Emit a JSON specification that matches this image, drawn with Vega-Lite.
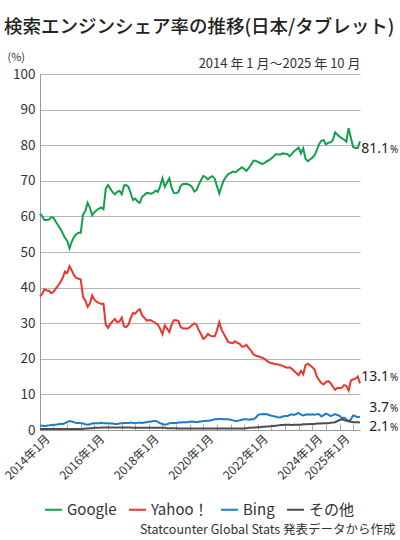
{
  "$schema": "https://vega.github.io/schema/vega-lite/v6.json",
  "width": 320,
  "height": 356,
  "autosize": {"type": "none"},
  "padding": {"left": 40, "top": 74, "right": 40, "bottom": 110},
  "background": "#ffffff",
  "title": {
    "text": "検索エンジンシェア率の推移(日本/タブレット)",
    "anchor": "start", "frame": "group", "dx": -36, "offset": 15,
    "font": "Noto Sans CJK JP", "fontSize": 18.5, "fontWeight": 500, "color": "#222222"
  },
  "config": {
    "view": {"stroke": null},
    "font": "Noto Sans CJK JP",
    "axisY": {
      "tickCount": 10, "grid": true, "gridColor": "#b5b5b5", "ticks": false, "labelOverlap": false,
      "domainColor": "#999999", "labelFontSize": 13.5, "labelColor": "#333333", "labelPadding": 5,
      "titleAngle": 0, "titleX": -33, "titleY": -14, "titleAlign": "left", "titleBaseline": "alphabetic",
      "titleFontSize": 11, "titleFontWeight": "normal", "titleColor": "#333333"
    }
  },
  "data": {
    "format": {"parse": {"month": "utc:'%Y-%m'"}},
    "values": [
      {"month": "2014-01", "Google": 60.8, "Yahoo！": 37.6, "Bing": 1.3, "その他": 0.3},
      {"month": "2014-02", "Google": 60.0, "Yahoo！": 38.2, "Bing": 1.2, "その他": 0.3},
      {"month": "2014-03", "Google": 59.0, "Yahoo！": 39.5, "Bing": 1.1, "その他": 0.3},
      {"month": "2014-04", "Google": 59.0, "Yahoo！": 39.2, "Bing": 1.2, "その他": 0.3},
      {"month": "2014-05", "Google": 59.1, "Yahoo！": 39.1, "Bing": 1.3, "その他": 0.3},
      {"month": "2014-06", "Google": 59.8, "Yahoo！": 38.5, "Bing": 1.4, "その他": 0.3},
      {"month": "2014-07", "Google": 59.6, "Yahoo！": 38.8, "Bing": 1.5, "その他": 0.3},
      {"month": "2014-08", "Google": 58.5, "Yahoo！": 39.7, "Bing": 1.5, "その他": 0.3},
      {"month": "2014-09", "Google": 57.5, "Yahoo！": 40.6, "Bing": 1.6, "その他": 0.3},
      {"month": "2014-10", "Google": 56.5, "Yahoo！": 41.5, "Bing": 1.7, "その他": 0.3},
      {"month": "2014-11", "Google": 55.3, "Yahoo！": 42.7, "Bing": 1.7, "その他": 0.3},
      {"month": "2014-12", "Google": 54.0, "Yahoo！": 44.5, "Bing": 1.9, "その他": 0.3},
      {"month": "2015-01", "Google": 53.2, "Yahoo！": 44.1, "Bing": 2.2, "その他": 0.3},
      {"month": "2015-02", "Google": 51.0, "Yahoo！": 46.0, "Bing": 2.5, "その他": 0.3},
      {"month": "2015-03", "Google": 52.8, "Yahoo！": 44.9, "Bing": 2.4, "その他": 0.3},
      {"month": "2015-04", "Google": 54.2, "Yahoo！": 43.5, "Bing": 2.2, "その他": 0.3},
      {"month": "2015-05", "Google": 55.0, "Yahoo！": 42.7, "Bing": 2.0, "その他": 0.3},
      {"month": "2015-06", "Google": 55.4, "Yahoo！": 42.5, "Bing": 2.0, "その他": 0.3},
      {"month": "2015-07", "Google": 55.4, "Yahoo！": 42.3, "Bing": 1.9, "その他": 0.3},
      {"month": "2015-08", "Google": 60.5, "Yahoo！": 37.4, "Bing": 1.8, "その他": 0.3},
      {"month": "2015-09", "Google": 61.5, "Yahoo！": 36.4, "Bing": 1.6, "その他": 0.4},
      {"month": "2015-10", "Google": 63.8, "Yahoo！": 34.6, "Bing": 1.5, "その他": 0.4},
      {"month": "2015-11", "Google": 62.5, "Yahoo！": 35.5, "Bing": 1.6, "その他": 0.5},
      {"month": "2015-12", "Google": 60.3, "Yahoo！": 37.8, "Bing": 1.8, "その他": 0.5},
      {"month": "2016-01", "Google": 61.2, "Yahoo！": 36.6, "Bing": 1.9, "その他": 0.6},
      {"month": "2016-02", "Google": 61.8, "Yahoo！": 36.0, "Bing": 1.9, "その他": 0.6},
      {"month": "2016-03", "Google": 62.2, "Yahoo！": 35.7, "Bing": 1.9, "その他": 0.6},
      {"month": "2016-04", "Google": 62.5, "Yahoo！": 35.4, "Bing": 2.0, "その他": 0.7},
      {"month": "2016-05", "Google": 62.0, "Yahoo！": 35.5, "Bing": 1.9, "その他": 0.7},
      {"month": "2016-06", "Google": 67.8, "Yahoo！": 29.6, "Bing": 1.9, "その他": 0.7},
      {"month": "2016-07", "Google": 68.8, "Yahoo！": 28.7, "Bing": 1.9, "その他": 0.7},
      {"month": "2016-08", "Google": 67.8, "Yahoo！": 29.8, "Bing": 1.8, "その他": 0.7},
      {"month": "2016-09", "Google": 66.8, "Yahoo！": 30.6, "Bing": 1.8, "その他": 0.7},
      {"month": "2016-10", "Google": 66.2, "Yahoo！": 31.2, "Bing": 1.7, "その他": 0.7},
      {"month": "2016-11", "Google": 66.9, "Yahoo！": 30.3, "Bing": 1.7, "その他": 0.7},
      {"month": "2016-12", "Google": 67.2, "Yahoo！": 30.5, "Bing": 1.8, "その他": 0.7},
      {"month": "2017-01", "Google": 66.2, "Yahoo！": 31.6, "Bing": 1.9, "その他": 0.7},
      {"month": "2017-02", "Google": 68.7, "Yahoo！": 29.1, "Bing": 2.0, "その他": 0.7},
      {"month": "2017-03", "Google": 68.8, "Yahoo！": 28.9, "Bing": 2.0, "その他": 0.7},
      {"month": "2017-04", "Google": 68.3, "Yahoo！": 29.6, "Bing": 2.0, "その他": 0.7},
      {"month": "2017-05", "Google": 66.5, "Yahoo！": 31.4, "Bing": 2.1, "その他": 0.7},
      {"month": "2017-06", "Google": 64.6, "Yahoo！": 32.9, "Bing": 2.0, "その他": 0.6},
      {"month": "2017-07", "Google": 65.0, "Yahoo！": 32.7, "Bing": 1.9, "その他": 0.6},
      {"month": "2017-08", "Google": 64.2, "Yahoo！": 33.5, "Bing": 2.0, "その他": 0.6},
      {"month": "2017-09", "Google": 63.8, "Yahoo！": 33.9, "Bing": 2.1, "その他": 0.6},
      {"month": "2017-10", "Google": 65.5, "Yahoo！": 32.2, "Bing": 2.0, "その他": 0.6},
      {"month": "2017-11", "Google": 66.0, "Yahoo！": 31.5, "Bing": 2.1, "その他": 0.6},
      {"month": "2017-12", "Google": 66.6, "Yahoo！": 30.7, "Bing": 2.2, "その他": 0.6},
      {"month": "2018-01", "Google": 66.5, "Yahoo！": 30.9, "Bing": 2.3, "その他": 0.6},
      {"month": "2018-02", "Google": 66.4, "Yahoo！": 30.8, "Bing": 2.4, "その他": 0.6},
      {"month": "2018-03", "Google": 66.7, "Yahoo！": 30.4, "Bing": 2.5, "その他": 0.6},
      {"month": "2018-04", "Google": 67.2, "Yahoo！": 30.0, "Bing": 2.5, "その他": 0.6},
      {"month": "2018-05", "Google": 66.9, "Yahoo！": 29.6, "Bing": 2.3, "その他": 0.6},
      {"month": "2018-06", "Google": 68.5, "Yahoo！": 28.4, "Bing": 1.9, "その他": 0.6},
      {"month": "2018-07", "Google": 70.7, "Yahoo！": 26.9, "Bing": 1.7, "その他": 0.6},
      {"month": "2018-08", "Google": 68.3, "Yahoo！": 29.4, "Bing": 1.5, "その他": 0.6},
      {"month": "2018-09", "Google": 69.5, "Yahoo！": 28.5, "Bing": 1.6, "その他": 0.5},
      {"month": "2018-10", "Google": 70.7, "Yahoo！": 27.5, "Bing": 1.9, "その他": 0.5},
      {"month": "2018-11", "Google": 68.0, "Yahoo！": 29.6, "Bing": 2.0, "その他": 0.5},
      {"month": "2018-12", "Google": 66.6, "Yahoo！": 30.8, "Bing": 2.0, "その他": 0.5},
      {"month": "2019-01", "Google": 66.5, "Yahoo！": 30.8, "Bing": 2.0, "その他": 0.5},
      {"month": "2019-02", "Google": 66.9, "Yahoo！": 30.6, "Bing": 2.1, "その他": 0.4},
      {"month": "2019-03", "Google": 68.5, "Yahoo！": 29.0, "Bing": 2.1, "その他": 0.4},
      {"month": "2019-04", "Google": 69.1, "Yahoo！": 28.5, "Bing": 2.2, "その他": 0.4},
      {"month": "2019-05", "Google": 69.2, "Yahoo！": 28.5, "Bing": 2.2, "その他": 0.4},
      {"month": "2019-06", "Google": 69.1, "Yahoo！": 28.5, "Bing": 2.2, "その他": 0.4},
      {"month": "2019-07", "Google": 68.8, "Yahoo！": 28.8, "Bing": 2.3, "その他": 0.4},
      {"month": "2019-08", "Google": 68.3, "Yahoo！": 29.4, "Bing": 2.4, "その他": 0.4},
      {"month": "2019-09", "Google": 67.0, "Yahoo！": 30.0, "Bing": 2.3, "その他": 0.4},
      {"month": "2019-10", "Google": 67.4, "Yahoo！": 29.6, "Bing": 2.2, "その他": 0.4},
      {"month": "2019-11", "Google": 69.0, "Yahoo！": 28.0, "Bing": 2.3, "その他": 0.4},
      {"month": "2019-12", "Google": 70.2, "Yahoo！": 26.9, "Bing": 2.4, "その他": 0.4},
      {"month": "2020-01", "Google": 71.4, "Yahoo！": 25.6, "Bing": 2.5, "その他": 0.4},
      {"month": "2020-02", "Google": 71.0, "Yahoo！": 26.1, "Bing": 2.5, "その他": 0.4},
      {"month": "2020-03", "Google": 70.4, "Yahoo！": 27.0, "Bing": 2.6, "その他": 0.4},
      {"month": "2020-04", "Google": 71.0, "Yahoo！": 26.5, "Bing": 2.7, "その他": 0.4},
      {"month": "2020-05", "Google": 71.3, "Yahoo！": 26.3, "Bing": 2.8, "その他": 0.4},
      {"month": "2020-06", "Google": 70.6, "Yahoo！": 26.3, "Bing": 3.0, "その他": 0.4},
      {"month": "2020-07", "Google": 68.5, "Yahoo！": 28.0, "Bing": 3.0, "その他": 0.4},
      {"month": "2020-08", "Google": 66.4, "Yahoo！": 30.3, "Bing": 3.1, "その他": 0.4},
      {"month": "2020-09", "Google": 68.5, "Yahoo！": 28.2, "Bing": 3.1, "その他": 0.4},
      {"month": "2020-10", "Google": 70.2, "Yahoo！": 27.0, "Bing": 3.0, "その他": 0.4},
      {"month": "2020-11", "Google": 71.2, "Yahoo！": 25.8, "Bing": 3.0, "その他": 0.4},
      {"month": "2020-12", "Google": 71.9, "Yahoo！": 24.7, "Bing": 3.0, "その他": 0.4},
      {"month": "2021-01", "Google": 72.2, "Yahoo！": 24.5, "Bing": 2.9, "その他": 0.4},
      {"month": "2021-02", "Google": 72.6, "Yahoo！": 24.4, "Bing": 2.7, "その他": 0.4},
      {"month": "2021-03", "Google": 72.4, "Yahoo！": 24.9, "Bing": 2.6, "その他": 0.4},
      {"month": "2021-04", "Google": 72.8, "Yahoo！": 24.5, "Bing": 2.5, "その他": 0.4},
      {"month": "2021-05", "Google": 73.3, "Yahoo！": 24.2, "Bing": 2.7, "その他": 0.4},
      {"month": "2021-06", "Google": 73.8, "Yahoo！": 23.4, "Bing": 2.9, "その他": 0.4},
      {"month": "2021-07", "Google": 73.3, "Yahoo！": 23.5, "Bing": 3.0, "その他": 0.4},
      {"month": "2021-08", "Google": 72.8, "Yahoo！": 23.9, "Bing": 3.0, "その他": 0.5},
      {"month": "2021-09", "Google": 73.6, "Yahoo！": 23.0, "Bing": 2.9, "その他": 0.6},
      {"month": "2021-10", "Google": 74.5, "Yahoo！": 22.3, "Bing": 3.0, "その他": 0.6},
      {"month": "2021-11", "Google": 75.6, "Yahoo！": 21.3, "Bing": 3.0, "その他": 0.7},
      {"month": "2021-12", "Google": 75.6, "Yahoo！": 20.9, "Bing": 3.4, "その他": 0.7},
      {"month": "2022-01", "Google": 75.3, "Yahoo！": 20.7, "Bing": 4.2, "その他": 0.8},
      {"month": "2022-02", "Google": 75.0, "Yahoo！": 20.5, "Bing": 4.4, "その他": 0.8},
      {"month": "2022-03", "Google": 74.7, "Yahoo！": 20.3, "Bing": 4.4, "その他": 0.9},
      {"month": "2022-04", "Google": 75.0, "Yahoo！": 20.0, "Bing": 4.5, "その他": 0.9},
      {"month": "2022-05", "Google": 75.5, "Yahoo！": 19.4, "Bing": 4.4, "その他": 1.0},
      {"month": "2022-06", "Google": 75.8, "Yahoo！": 19.0, "Bing": 4.2, "その他": 1.0},
      {"month": "2022-07", "Google": 76.3, "Yahoo！": 18.8, "Bing": 4.0, "その他": 1.1},
      {"month": "2022-08", "Google": 76.9, "Yahoo！": 18.6, "Bing": 3.9, "その他": 1.1},
      {"month": "2022-09", "Google": 77.5, "Yahoo！": 18.5, "Bing": 3.7, "その他": 1.2},
      {"month": "2022-10", "Google": 77.4, "Yahoo！": 18.4, "Bing": 3.5, "その他": 1.3},
      {"month": "2022-11", "Google": 77.4, "Yahoo！": 18.2, "Bing": 3.6, "その他": 1.4},
      {"month": "2022-12", "Google": 77.7, "Yahoo！": 18.0, "Bing": 3.8, "その他": 1.4},
      {"month": "2023-01", "Google": 77.6, "Yahoo！": 17.7, "Bing": 3.9, "その他": 1.5},
      {"month": "2023-02", "Google": 77.5, "Yahoo！": 17.5, "Bing": 3.9, "その他": 1.5},
      {"month": "2023-03", "Google": 76.9, "Yahoo！": 17.6, "Bing": 4.2, "その他": 1.5},
      {"month": "2023-04", "Google": 77.5, "Yahoo！": 17.2, "Bing": 4.4, "その他": 1.4},
      {"month": "2023-05", "Google": 78.3, "Yahoo！": 16.6, "Bing": 4.2, "その他": 1.5},
      {"month": "2023-06", "Google": 78.8, "Yahoo！": 16.0, "Bing": 4.5, "その他": 1.5},
      {"month": "2023-07", "Google": 79.3, "Yahoo！": 15.4, "Bing": 4.8, "その他": 1.5},
      {"month": "2023-08", "Google": 77.7, "Yahoo！": 16.6, "Bing": 4.3, "その他": 1.5},
      {"month": "2023-09", "Google": 79.1, "Yahoo！": 15.7, "Bing": 4.1, "その他": 1.6},
      {"month": "2023-10", "Google": 76.2, "Yahoo！": 18.2, "Bing": 4.3, "その他": 1.6},
      {"month": "2023-11", "Google": 75.5, "Yahoo！": 18.6, "Bing": 4.4, "その他": 1.6},
      {"month": "2023-12", "Google": 76.0, "Yahoo！": 18.2, "Bing": 4.3, "その他": 1.7},
      {"month": "2024-01", "Google": 76.5, "Yahoo！": 17.6, "Bing": 4.4, "その他": 1.7},
      {"month": "2024-02", "Google": 77.2, "Yahoo！": 17.0, "Bing": 4.3, "その他": 1.7},
      {"month": "2024-03", "Google": 78.6, "Yahoo！": 15.0, "Bing": 4.4, "その他": 1.8},
      {"month": "2024-04", "Google": 80.3, "Yahoo！": 14.0, "Bing": 4.4, "その他": 1.8},
      {"month": "2024-05", "Google": 81.3, "Yahoo！": 13.2, "Bing": 3.8, "その他": 1.8},
      {"month": "2024-06", "Google": 81.4, "Yahoo！": 12.8, "Bing": 4.2, "その他": 1.9},
      {"month": "2024-07", "Google": 80.2, "Yahoo！": 13.5, "Bing": 4.6, "その他": 1.9},
      {"month": "2024-08", "Google": 80.7, "Yahoo！": 13.7, "Bing": 4.3, "その他": 1.9},
      {"month": "2024-09", "Google": 80.8, "Yahoo！": 13.2, "Bing": 3.9, "その他": 2.0},
      {"month": "2024-10", "Google": 81.4, "Yahoo！": 12.2, "Bing": 4.2, "その他": 2.1},
      {"month": "2024-11", "Google": 83.6, "Yahoo！": 11.3, "Bing": 4.5, "その他": 2.2},
      {"month": "2024-12", "Google": 83.0, "Yahoo！": 11.8, "Bing": 4.2, "その他": 2.5},
      {"month": "2025-01", "Google": 82.4, "Yahoo！": 11.8, "Bing": 4.0, "その他": 2.8},
      {"month": "2025-02", "Google": 81.9, "Yahoo！": 11.9, "Bing": 3.3, "その他": 3.0},
      {"month": "2025-03", "Google": 81.6, "Yahoo！": 12.6, "Bing": 3.5, "その他": 2.8},
      {"month": "2025-04", "Google": 81.0, "Yahoo！": 12.4, "Bing": 3.0, "その他": 2.6},
      {"month": "2025-05", "Google": 84.8, "Yahoo！": 11.1, "Bing": 2.4, "その他": 2.5},
      {"month": "2025-06", "Google": 82.0, "Yahoo！": 13.9, "Bing": 3.0, "その他": 2.3},
      {"month": "2025-07", "Google": 79.5, "Yahoo！": 14.2, "Bing": 4.1, "その他": 2.2},
      {"month": "2025-08", "Google": 79.2, "Yahoo！": 14.4, "Bing": 3.9, "その他": 2.2},
      {"month": "2025-09", "Google": 79.2, "Yahoo！": 15.0, "Bing": 3.6, "その他": 2.2},
      {"month": "2025-10", "Google": 81.1, "Yahoo！": 13.1, "Bing": 3.7, "その他": 2.1}
    ]
  },
  "transform": [
    {"fold": ["Google", "Yahoo！", "Bing", "その他"], "as": ["engine", "share"]}
  ],
  "layer": [
    {
      "mark": {"type": "line", "strokeWidth": 2},
      "encoding": {
        "x": {
          "field": "month", "type": "temporal",
          "scale": {"type": "utc", "nice": false},
          "axis": {
            "tickCount": {"interval": "month", "step": 6},
            "labelExpr": "(utcmonth(datum.value) == 0 && (utcyear(datum.value) % 2 == 0 || utcyear(datum.value) == 2025)) ? utcyear(datum.value) + '年1月' : ''",
            "labelAngle": -45, "labelAlign": "right", "labelBaseline": "top",
            "labelFontSize": 12, "labelColor": "#333333", "labelPadding": 9, "labelOffset": 4,
            "labelOverlap": false, "labelBound": false, "labelFlush": false,
            "tickSize": -6, "tickColor": "#aaaaaa", "domainColor": "#999999", "grid": false,
            "title": "Statcounter Global Stats 発表データから作成",
            "titleX": 355, "titleY": 103, "titleAlign": "right", "titleBaseline": "alphabetic",
            "titleFontSize": 12.5, "titleFontWeight": "normal", "titleColor": "#333333"
          }
        },
        "y": {
          "field": "share", "type": "quantitative",
          "scale": {"domain": [0, 100], "nice": false},
          "axis": {"title": "(%)"}
        },
        "color": {
          "field": "engine", "type": "nominal",
          "scale": {"domain": ["Google", "Yahoo！", "Bing", "その他"], "range": ["#14a04b", "#e8372c", "#1e7bc8", "#4d4d4d"]},
          "legend": {
            "orient": "none", "legendX": 4, "legendY": 426, "direction": "horizontal", "title": null,
            "symbolType": "stroke", "symbolStrokeWidth": 2, "symbolSize": 289,
            "labelFontSize": 15, "labelColor": "#333333", "labelOffset": 4, "columnPadding": 8
          }
        }
      }
    },
    {
      "transform": [{"filter": "datum.engine == 'Google' && utcyear(datum.month) == 2025 && utcmonth(datum.month) == 9"}],
      "mark": {"type": "text", "align": "right", "baseline": "alphabetic", "dx": 29, "dy": 12, "fontSize": 14, "font": "Noto Sans", "color": "#222222"},
      "encoding": {
        "x": {
          "field": "month", "type": "temporal",
          "axis": {
            "orient": "top", "domain": false, "ticks": false, "labels": false, "grid": false,
            "title": "2014 年 1 月〜2025 年 10 月", "titleX": 320, "titleY": -7,
            "titleAlign": "right", "titleBaseline": "alphabetic",
            "titleFontSize": 13, "titleFontWeight": "normal", "titleColor": "#333333"
          }
        },
        "y": {"field": "share", "type": "quantitative", "axis": {"title": "(%)"}},
        "text": {"field": "share", "type": "quantitative", "format": ".1f"}
      }
    },
    {
      "transform": [{"filter": "datum.engine == 'Google' && utcyear(datum.month) == 2025 && utcmonth(datum.month) == 9"}],
      "mark": {"type": "text", "align": "left", "baseline": "alphabetic", "dx": 30, "dy": 12, "fontSize": 10, "font": "Noto Sans", "color": "#222222", "text": "%"},
      "encoding": {
        "x": {"field": "month", "type": "temporal", "axis": null},
        "y": {"field": "share", "type": "quantitative", "axis": {"title": "(%)"}}
      }
    },
    {
      "transform": [{"filter": "datum.engine == 'Yahoo！' && utcyear(datum.month) == 2025 && utcmonth(datum.month) == 9"}],
      "mark": {"type": "text", "align": "right", "baseline": "alphabetic", "dx": 29, "dy": -2.5, "fontSize": 14, "font": "Noto Sans", "color": "#222222"},
      "encoding": {
        "x": {"field": "month", "type": "temporal", "axis": null},
        "y": {"field": "share", "type": "quantitative", "axis": {"title": "(%)"}},
        "text": {"field": "share", "type": "quantitative", "format": ".1f"}
      }
    },
    {
      "transform": [{"filter": "datum.engine == 'Yahoo！' && utcyear(datum.month) == 2025 && utcmonth(datum.month) == 9"}],
      "mark": {"type": "text", "align": "left", "baseline": "alphabetic", "dx": 30, "dy": -2.5, "fontSize": 10, "font": "Noto Sans", "color": "#222222", "text": "%"},
      "encoding": {
        "x": {"field": "month", "type": "temporal", "axis": null},
        "y": {"field": "share", "type": "quantitative", "axis": {"title": "(%)"}}
      }
    },
    {
      "transform": [{"filter": "datum.engine == 'Bing' && utcyear(datum.month) == 2025 && utcmonth(datum.month) == 9"}],
      "mark": {"type": "text", "align": "right", "baseline": "alphabetic", "dx": 29, "dy": -4.5, "fontSize": 14, "font": "Noto Sans", "color": "#222222"},
      "encoding": {
        "x": {"field": "month", "type": "temporal", "axis": null},
        "y": {"field": "share", "type": "quantitative", "axis": {"title": "(%)"}},
        "text": {"field": "share", "type": "quantitative", "format": ".1f"}
      }
    },
    {
      "transform": [{"filter": "datum.engine == 'Bing' && utcyear(datum.month) == 2025 && utcmonth(datum.month) == 9"}],
      "mark": {"type": "text", "align": "left", "baseline": "alphabetic", "dx": 30, "dy": -4.5, "fontSize": 10, "font": "Noto Sans", "color": "#222222", "text": "%"},
      "encoding": {
        "x": {"field": "month", "type": "temporal", "axis": null},
        "y": {"field": "share", "type": "quantitative", "axis": {"title": "(%)"}}
      }
    },
    {
      "transform": [{"filter": "datum.engine == 'その他' && utcyear(datum.month) == 2025 && utcmonth(datum.month) == 9"}],
      "mark": {"type": "text", "align": "right", "baseline": "alphabetic", "dx": 29, "dy": 8.5, "fontSize": 14, "font": "Noto Sans", "color": "#222222"},
      "encoding": {
        "x": {"field": "month", "type": "temporal", "axis": null},
        "y": {"field": "share", "type": "quantitative", "axis": {"title": "(%)"}},
        "text": {"field": "share", "type": "quantitative", "format": ".1f"}
      }
    },
    {
      "transform": [{"filter": "datum.engine == 'その他' && utcyear(datum.month) == 2025 && utcmonth(datum.month) == 9"}],
      "mark": {"type": "text", "align": "left", "baseline": "alphabetic", "dx": 30, "dy": 8.5, "fontSize": 10, "font": "Noto Sans", "color": "#222222", "text": "%"},
      "encoding": {
        "x": {"field": "month", "type": "temporal", "axis": null},
        "y": {"field": "share", "type": "quantitative", "axis": {"title": "(%)"}}
      }
    }
  ],
  "resolve": {"axis": {"x": "independent"}}
}
